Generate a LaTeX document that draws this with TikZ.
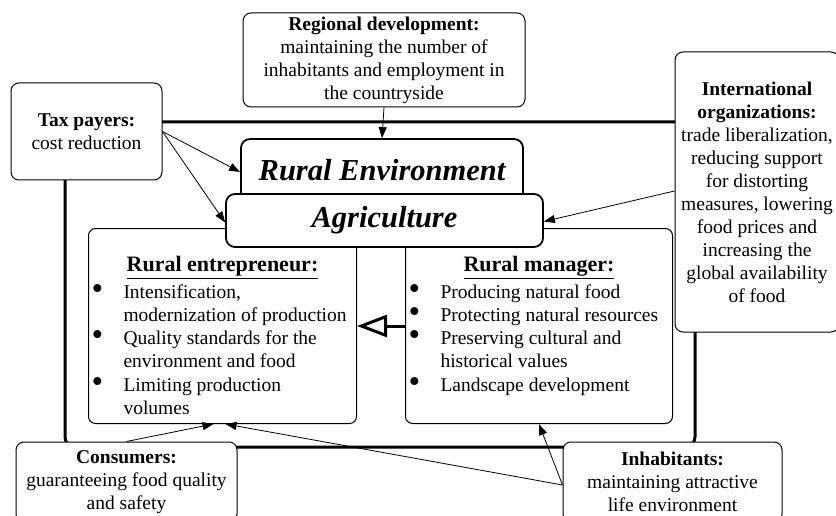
\documentclass[tikz,border=0pt]{standalone}
\usepackage{fontspec}
\setmainfont{Liberation Serif}
\usetikzlibrary{arrows.meta}
\newcommand{\roleitem}[1]{\par\noindent\hangindent=35pt\hangafter=1\makebox[35pt][l]{\hspace{3pt}\smash{\raisebox{-1pt}{\scalebox{1.7}{\textbullet}}}}#1}
\newcommand{\roletitle}[1]{\vspace*{28pt}{\centering\fontsize{22}{26}\selectfont\underline{\textbf{#1}}\par}\vspace{3pt}}

\begin{document}
\begin{tikzpicture}[x=1pt,y=-1pt]
    \tikzstyle{actor}=[draw, fill=white, rounded corners=8pt, line width=1pt, align=center, inner sep=0pt, font=\fontsize{19.5}{23}\selectfont]
    \tikzstyle{tier}=[draw, fill=white, rounded corners=9pt, line width=1.8pt, inner sep=0pt, font=\fontsize{30.5}{34}\selectfont\bfseries\itshape]
    \tikzstyle{panel}=[draw, fill=white, rounded corners=7pt, line width=1pt, inner sep=0pt, font=\fontsize{19.5}{23.3}\selectfont]
    \tikzstyle{arr}=[-{Triangle[length=11pt,width=8pt]}, line width=0.8pt]
    \tikzstyle{openarr}=[-{Triangle[open,length=30pt,width=22pt]}, line width=3pt]
    \clip (0,0) rectangle (836,516);
    % thick frame
    \draw [black, line width=3pt, rounded corners=10pt] (65,122) rectangle (695,447);
    % actors round the frame
    \node [actor, minimum width=282, minimum height=94] (reg) at (384,60)
        {\textbf{Regional development:}\\maintaining the number of\\inhabitants and employment in\\the countryside};
    \node [actor, minimum width=151, minimum height=97] (tax) at (86.5,131.5)
        {\textbf{Tax payers:}\\cost reduction};
    \node [actor, minimum width=164, minimum height=280] (intl) at (757,192)
        {\textbf{International}\\\textbf{organizations:}\\trade liberalization,\\reducing support\\for distorting\\measures, lowering\\food prices and\\increasing the\\global availability\\of food};
    \node [actor, minimum width=221, minimum height=80] (cons) at (126.5,482)
        {\textbf{Consumers:}\\guaranteeing food quality\\and safety};
    \node [actor, minimum width=219, minimum height=80] (inh) at (672.5,482)
        {\textbf{Inhabitants:}\\maintaining attractive\\life environment};
    % roles
    \node [panel, anchor=north west] (entr) at (88,228)
        {\begin{minipage}[t][195pt][t]{268pt}
        \roletitle{Rural entrepreneur:}
        \roleitem{Intensification,\\modernization of production}
        \roleitem{Quality standards for the\\environment and food}
        \roleitem{Limiting production\\volumes}
        \end{minipage}};
    \node [panel, anchor=north west] (mgr) at (405,228)
        {\begin{minipage}[t][195pt][t]{267pt}
        \roletitle{Rural manager:}
        \roleitem{Producing natural food}
        \roleitem{Protecting natural resources}
        \roleitem{Preserving cultural and\\historical values}
        \roleitem{Landscape development}
        \end{minipage}};
    % the two tiers, on top of the roles
    \node [tier, minimum width=282, minimum height=62] (renv) at (382,170) {Rural Environment};
    \node [tier, minimum width=317, minimum height=53] (agri) at (384.5,220.5) {Agriculture};
    % arrows
    \draw [arr] (reg.south) -- (renv.north);
    \draw [arr] (tax.east) -- ([yshift=-2pt]renv.west);
    \draw [arr] (tax.east) -- ([yshift=-2pt]agri.west);
    \draw [arr] ([yshift=1pt]intl.west) -- ([yshift=-1pt]agri.east);
    \draw [arr] (cons.north) -- ([xshift=-9pt]entr.south);
    \draw [arr] ([yshift=-3pt]inh.west) -- ([xshift=3pt]entr.south);
    \draw [arr] ([yshift=-3pt]inh.west) -- (mgr.south);
    \draw [openarr] (mgr.west) -- (entr.east);
\end{tikzpicture}
\end{document}
